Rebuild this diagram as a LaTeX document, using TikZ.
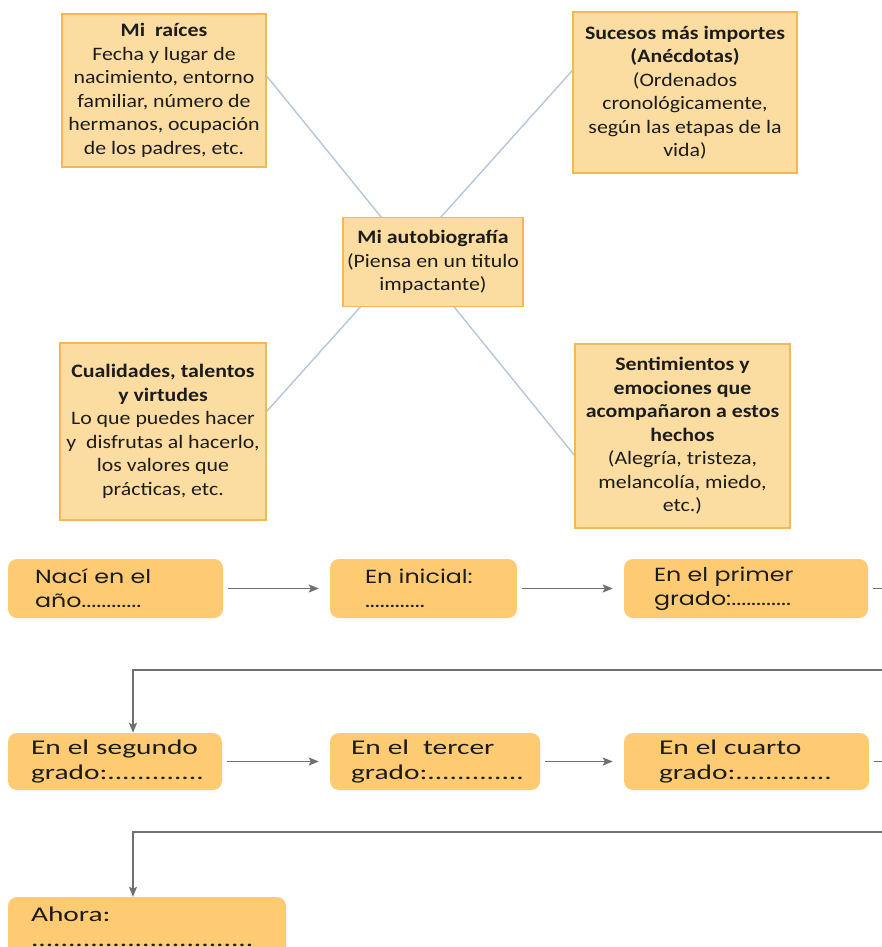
\documentclass[tikz,border=0pt]{standalone}
\usepackage{fontspec}
\setmainfont{Carlito}[FakeStretch=1.15]
\newfontfamily\gothicfont{Poppins}[FakeStretch=1.25]
\newfontfamily\rowfont{Carlito}[FakeStretch=1.4]
\usetikzlibrary{arrows.meta}

\definecolor{notefill}{HTML}{FCDDA1}
\definecolor{noteline}{HTML}{F3B854}
\definecolor{stagefill}{HTML}{FECB73}
\definecolor{linkblue}{HTML}{B4C6DA}
\definecolor{flowgray}{HTML}{707070}
\definecolor{ink}{HTML}{1C1C1C}

\tikzset{
	note/.style = {draw = noteline, fill = notefill, line width = 1.5pt, align = center, text = ink,
		font = \fontsize{19}{23.5}\selectfont, inner sep = 0pt},
	stage/.style 2 args = {fill = stagefill, rounded corners = 9pt, align = left, text = ink,
		text width = #1, inner xsep = #2, inner ysep = 0pt},
	flow/.style = {draw = flowgray, line width = 1.8pt, -{Stealth[length = 10pt, width = 8pt, inset = 2pt]}},
	gap/.style = {shorten <= 5pt, shorten >= 11pt},
	link/.style = {draw = linkblue, line width = 1.4pt},
}

\begin{document}
\begin{tikzpicture}[x = 1pt, y = -1pt]
		\useasboundingbox (0,0) rectangle (882,947);
		
		\node (raices) at (164,90.5) [note, minimum width = 204pt, minimum height = 153pt]
			{\textbf{Mi\ \ raíces}\\Fecha y lugar de\\nacimiento, entorno\\familiar, número de\\hermanos, ocupación\\de los padres, etc.};
		\node (sucesos) at (685,92.5) [note, minimum width = 224pt, minimum height = 161pt]
			{\textbf{Sucesos más importes}\\\textbf{(Anécdotas)}\\(Ordenados\\cronológicamente,\\según las etapas de la\\vida)};
		\node (cualid) at (163,431.5) [note, minimum width = 206pt, minimum height = 177pt]
			{\textbf{Cualidades, talentos}\\\textbf{y virtudes}\\Lo que puedes hacer\\y\ \ disfrutas al hacerlo,\\los valores que\\prácticas, etc.};
		\node (sentim) at (682.5,436) [note, minimum width = 215pt, minimum height = 184pt]
			{\textbf{Sentimientos y}\\\textbf{emociones que}\\\textbf{acompañaron a estos}\\\textbf{hechos}\\(Alegría, tristeza,\\melancolía, miedo,\\etc.)};
		
		\draw [link] (raices.8) -- (sentim.190);
		\draw [link] (sucesos.169) -- (cualid.11);
		
		\node (centro) at (433,262) [note, minimum width = 180pt, minimum height = 89pt]
			{\textbf{Mi autobiografía}\\(Piensa en un titulo\\impactante)};
		
		% first row
		\node (nac) at (115.5,588.5) [stage = {161pt}{27pt}, minimum height = 59pt, font = \gothicfont\fontsize{19}{24}\selectfont]
			{Nací en el\\año............};
		\node (inicial) at (423.5,588.5) [stage = {117pt}{35pt}, minimum height = 59pt, font = \gothicfont\fontsize{19}{24}\selectfont]
			{En inicial:\\............};
		\node (primero) at (746,588.5) [stage = {184pt}{30pt}, minimum height = 59pt, font = \gothicfont\fontsize{19}{24}\selectfont]
			{En el primer\\grado:............};
		\draw [flow, gap] (nac) -- (inicial);
		\draw [flow, gap] (inicial) -- (primero);
		
		% second row
		\coordinate (turn1) at (133,670);
		\node (segundo) at (115,761.5) [stage = {168pt}{23pt}, minimum height = 57pt, font = \rowfont\fontsize{21}{25}\selectfont]
			{En el segundo\\grado:.............};
		\node (tercero) at (435,761.5) [stage = {168pt}{21pt}, minimum height = 57pt, font = \rowfont\fontsize{21}{25}\selectfont]
			{En el\ \ tercer\\grado:.............};
		\node (cuarto) at (746.5,761.5) [stage = {175pt}{35pt}, minimum height = 57pt, font = \rowfont\fontsize{21}{25}\selectfont]
			{En el cuarto\\grado:.............};
		\draw [flow, shorten <= 5pt] (primero.east) -- ++(40,0) |- (turn1) -- (segundo.north -| turn1);
		\draw [flow, gap] (segundo) -- (tercero);
		\draw [flow, gap] (tercero) -- (cuarto);
		
		% third row
		\coordinate (turn2) at (133,832);
		\node (ahora) at (147,927) [stage = {232pt}{23pt}, minimum height = 60pt, font = \rowfont\fontsize{21}{25}\selectfont]
			{Ahora:\\..............................};
		\draw [flow, shorten <= 5pt] (cuarto.east) -- ++(40,0) |- (turn2) -- (ahora.north -| turn2);
		\end{tikzpicture}
\end{document}
